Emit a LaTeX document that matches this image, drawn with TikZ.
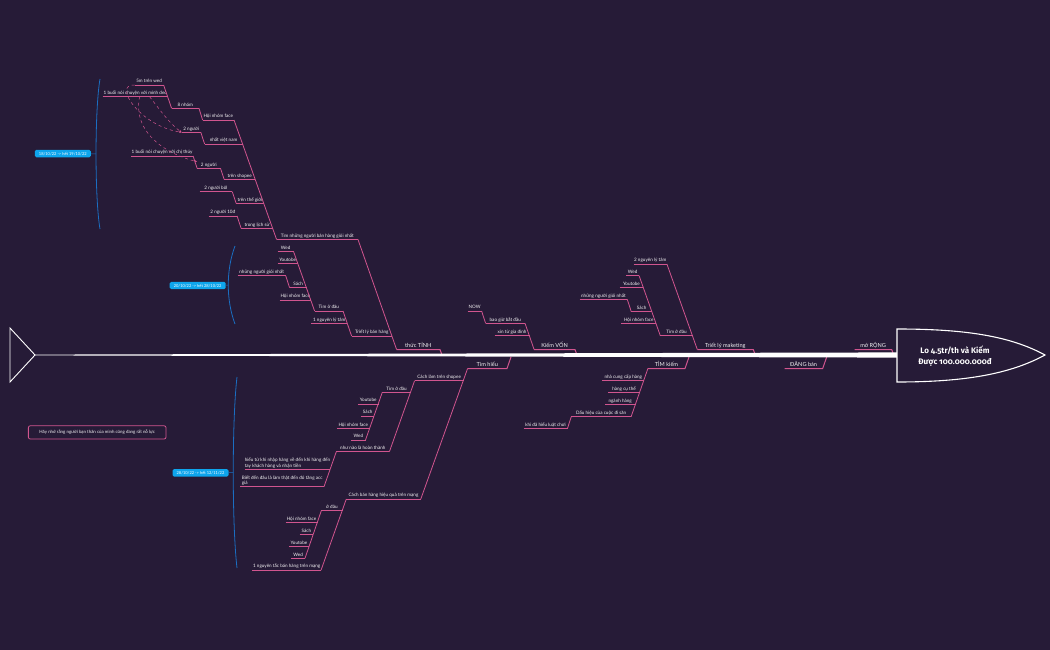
\documentclass[tikz,border=0pt]{standalone}
\usepackage{fontspec}
\setmainfont{Lato}
\newfontfamily\headfont[Numbers=OldStyle]{Fira Sans}
\usetikzlibrary{calc,arrows.meta}

\definecolor{bg}{HTML}{261B37}
\definecolor{bonepink}{HTML}{D1558F}
\definecolor{datefill}{HTML}{0EA5EC}
\definecolor{dateline}{HTML}{1B6EC2}

\tikzset{
	tp/.style={anchor=south east, inner xsep=0pt, inner ysep=1pt, text=white!94!bg,
		font=\fontsize{4.6}{5.4}\selectfont, text height=3.3pt, text depth=0.9pt},
	mtp/.style={tp, font=\fontsize{5.6}{6.5}\selectfont, text height=4pt, text depth=1.1pt},
	ul/.style={draw=bonepink, line width=0.8pt},
	mainul/.style={draw=bonepink, line width=1pt},
	rel/.style={draw=bonepink, dashed, line width=0.5pt, -{Stealth[length=2.5pt,width=2pt]}},
	datebox/.style={fill=datefill, rounded corners=1.5pt, text=white, inner sep=0pt,
		font=\fontsize{4}{4.5}\selectfont, minimum width=56pt, minimum height=7.4pt},
	bracket/.style={draw=dateline, line width=0.8pt},
}

\begin{document}
\begin{tikzpicture}[x=1pt, y=-1pt]
\path[use as bounding box, fill=bg] (0,0) rectangle (1050,650);

% main topics above and below the spine
\foreach \nm/\xl/\xr/\txt in {tinh/397/440/thức TỈNH, von/534.5/575/Kiếm VỐN,
	mkt/697.7/753.3/Triết lý maketing, mr/855/891.7/mở RỘNG}{
	\node[mtp, minimum width={\xr-\xl}] (\nm) at (\xr,349.5) {\txt};
	\draw[mainul] (\nm.south west) -- (\nm.south east) -- ++(1.8,5);
}
\foreach \nm/\xl/\xr/\txt in {hieu/468/507/Tìm hiểu, kiem/648.3/685/TÌM kiếm,
	dang/785/822.7/ĐĂNG bán}{
	\node[mtp, minimum width={\xr-\xl}] (\nm) at (\xr,368.5) {\txt};
	\draw[mainul] (\nm.south west) -- (\nm.south east) -- ++(4,-11.5);
}

% sub topics
\foreach \nm/\xl/\xr/\yy/\txt in {
	tim/277/358/239.5/Tìm những người bán hàng giỏi nhất,
	hnf1/203/234/120/Hội nhóm face,
	tam/172/199/108.3/8 nhóm,
	nam/135/163.6/85/5m trên wed,
	buoi1/103/167.8/96.7/1 buổi nói chuyện với mình dec,
	vn/205/242.5/144/nhất việt nam,
	ng1/182/200.8/132.3/2 người,
	shp/224.5/255.3/179.3/trên shopee,
	ng2/197.5/220.5/168.3/2 người,
	buoi2/131.5/193.1/156/1 buổi nói chuyện với chị thúy,
	tg/236.5/264/203.3/trên thế giới,
	ng3/200/232.3/191.7/2 người bôl,
	ls/241.5/273/228.3/trong lịch sử,
	ng4/209/237.1/216/2 người 10đ,
	tlb/352/392.1/336/Triết lý bán hàng,
	od1/315/343/311/Tìm ở đâu,
	nlt1/311.5/347.4/323.3/1 nguyên lý tâm,
	wed1/278/293.6/251.7/Wed,
	yt1/278/297.8/263.3/Youtobe,
	sach1/290/306.6/287.7/Sách,
	ngn1/238/285.7/275.7/những người giỏi nhất,
	hnf2/280/311/300/Hội nhóm face,
	bgbd/486/525/323.3/bao giờ bắt đầu,
	now/468/481.6/311/NOW,
	xin/495/529.5/335.7/xin từ gia đình,
	nlt2/634/666.9/264/2 nguyên lý tâm,
	od2/660.7/692.7/335.7/Tìm ở đâu,
	wed2/626.7/639.1/275.7/Wed,
	yt2/620/643.4/287.7/Youtobe,
	sach2/631.7/652/311.7/Sách,
	ngn2/580/627.2/299.3/những người giỏi nhất,
	hnf3/621.7/656.2/323.3/Hội nhóm face,
	cls/415/463.6/380.7/Cách làm trên shopee,
	od3/382.7/410.8/392.3/Tìm ở đâu,
	yt3/358.3/378.5/404/Youtobe,
	sach3/361.7/374.2/416/Sách,
	hnf4/337.3/369.7/428.3/Hội nhóm face,
	wed3/351.7/365.5/440/Wed,
	nnht/336.7/389.4/451.7/như nào là hoàn thành,
	cbh/346.7/420.8/499/Cách bán hàng hiệu quả trên mạng,
	od4/321.7/342.5/510.7/ở đâu,
	hnf5/286/317.5/522.3/Hội nhóm face,
	sach4/300/313.2/534.3/Sách,
	yt4/289.3/309/546.3/Youtobe,
	wed4/291.7/305/558.3/Wed,
	ntac/252.7/321.1/570/1 nguyên tắc bán hàng trên mạng,
	ncc/602.7/644.3/380.7/nhà cung cấp hàng,
	hct/608.7/639.8/392.7/hàng cụ thể,
	nh/605.3/635.5/404.3/ngành hàng,
	dh/571.7/631.1/416.7/Dấu hiệu của cuộc đi săn,
	khi/524/567.5/428.3/khi đã hiểu luật chơi}{
	\node[tp, minimum width={\xr-\xl}] (\nm) at (\xr,\yy) {\txt};
	\draw[ul] (\nm.south west) -- (\nm.south east);
}
\node[tp, align=left, minimum width=85.4pt] (ht1) at (330.4,469.3)
	{hiểu từ khi nhập hàng về đến khi hàng đến\\tay khách hàng và nhận tiền};
\node[tp, align=left, minimum width=83.3pt] (bd) at (324,486.7)
	{Biết đến đâu là làm thật đến đó tăng acc\\giả};
\draw[ul] (ht1.south west) -- (ht1.south east);
\draw[ul] (bd.south west) -- (bd.south east);

% bones: parent to its outermost child
\foreach \p/\c in {tinh/tim, tim/hnf1, hnf1/tam, tam/nam, vn/ng1, shp/ng2, ng2/buoi2,
	tg/ng3, ls/ng4, tlb/od1, od1/wed1, sach1/ngn1, von/bgbd, bgbd/now, mkt/nlt2,
	od2/wed2, sach2/ngn2, hieu/cbh, cls/nnht, od3/wed3, nnht/bd, cbh/ntac,
	od4/wed4, kiem/dh, dh/khi}
	\draw[ul] (\p.south west) -- (\c.south east);

% relations
\draw[rel] (nam.south west) .. controls (112,84) and (140,126) .. (ng1.south west);
\draw[rel] ([xshift=47pt]buoi1.south west) .. controls (160,110) and (170,124) .. (ng1.south west);
\draw[rel] ([xshift=37pt]buoi1.south west) .. controls (132,135) and (170,155) .. (ng2.north west);

% spine, tail and head
\fill[white] (35,354.6) -- (897,352.4) -- (897,357.6) -- (35,355.4) -- cycle;
\draw[white, line width=0.9pt] (10,328) -- (35,355) -- (10,382) -- cycle;
\draw[white, line width=1.1pt, fill=bg] (897,329) .. controls (965,329) and (1010,336) .. (1045,355)
	.. controls (1010,374) and (965,382) .. (897,382) -- cycle;
\node[font=\headfont\bfseries\fontsize{8}{10.6}\selectfont, text=white, align=center] (goal)
	at (955,356) {Lo 4.5tr/th và Kiếm\\Được 100.000.000đ};

% time ranges
\coordinate (b1) at (96,154);
\coordinate (b2) at (228.3,285);
\coordinate (b3) at (233.3,472.5);
\draw[bracket] (100,79) .. controls (94.7,110) and (94.7,198) .. (100,229);
\draw[bracket] (235,246) .. controls (226,270) and (226,300) .. (235,324);
\draw[bracket] (237,377) .. controls (232,420) and (232,525) .. (237,568);
\node[datebox] (d1) at (62.8,153.6) {18/10/22 -> hết 19/10/22};
\node[datebox] (d2) at (197.7,285.5) {20/10/22 -> hết 28/10/22};
\node[datebox] (d3) at (200.5,472.8) {28/10/22 -> hết 12/11/22};
\draw[bracket, line width=0.5pt] (d1) -- (b1);
\draw[bracket, line width=0.5pt] (d2) -- (b2);
\draw[bracket, line width=0.5pt] (d3) -- (b3);

\node[draw=bonepink, rounded corners=2pt, line width=0.8pt, minimum width=137.7pt,
	minimum height=13.3pt, inner sep=0pt, text=white!94!bg, font=\fontsize{4.4}{5}\selectfont]
	(note) at (97.2,432.4) {Hãy nhớ rằng người bạn thân của mình cũng đang rất nỗ lực};
\end{tikzpicture}
\end{document}
